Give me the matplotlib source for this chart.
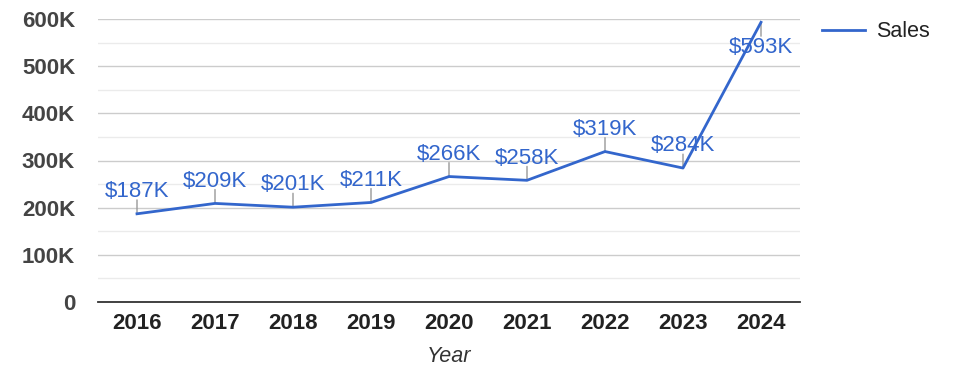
import matplotlib
matplotlib.use("Agg")
import matplotlib.pyplot as plt
from matplotlib.ticker import MultipleLocator, FuncFormatter

plt.rcParams['font.family'] = ['Liberation Sans', 'DejaVu Sans']

years = ["2016", "2017", "2018", "2019", "2020", "2021", "2022", "2023", "2024"]
sales = [187000, 209000, 201000, 211000, 266000, 258000, 319000, 284000, 593000]
labels = ["$187K", "$209K", "$201K", "$211K", "$266K", "$258K", "$319K", "$284K", "$593K"]
label_below = [False, False, False, False, False, False, False, False, True]

W, H = 975, 378
fig = plt.figure(figsize=(W / 100, H / 100), dpi=100)
ax = fig.add_axes([98 / W, 1 - 302 / H, (800 - 98) / W, (302 - 19) / H])

blue = "#3366cc"
x = list(range(len(years)))
ax.plot(x, sales, color=blue, lw=2, label="Sales", zorder=3, solid_joinstyle='round')

for xi, yi, lab, below in zip(x, sales, labels, label_below):
    sign = -1 if below else 1
    ax.annotate("", xy=(xi, yi), xytext=(0, sign * 10), textcoords="offset points",
                arrowprops=dict(arrowstyle="-", color="#999999", lw=1, shrinkA=0, shrinkB=0),
                zorder=2)
    ax.annotate(lab, xy=(xi, yi), xytext=(0, sign * (18 if below else 16)), textcoords="offset points",
                ha="center", va="center", color=blue, fontsize=16, zorder=4)

ax.set_xlim(-0.5, len(years) - 0.5)
ax.set_ylim(0, 600000)
ax.set_xticks(x)
ax.set_xticklabels(years)
ax.yaxis.set_major_locator(MultipleLocator(100000))
ax.yaxis.set_minor_locator(MultipleLocator(50000))
ax.yaxis.set_major_formatter(FuncFormatter(lambda v, p: "0" if v == 0 else f"{int(v/1000)}K"))
ax.grid(axis='y', which='major', color="#cccccc", lw=1)
ax.grid(axis='y', which='minor', color="#ebebeb", lw=1)
ax.set_axisbelow(True)
for s in ["top", "right", "left"]:
    ax.spines[s].set_visible(False)
ax.spines["bottom"].set_color("#333333")
ax.spines["bottom"].set_linewidth(1.3)
ax.tick_params(axis='both', which='both', length=0)
ax.tick_params(axis='y', pad=16.5, labelsize=16, labelcolor="#444444")
ax.tick_params(axis='x', pad=8, labelsize=16, labelcolor="#222222")
for t in ax.get_yticklabels() + ax.get_xticklabels():
    t.set_fontweight("bold")
ax.set_xlabel("Year", fontsize=15.5, style="italic", color="#333333", labelpad=8.5)

leg = fig.legend(loc="upper left", bbox_to_anchor=(803 / W, 1 - 2 / H), frameon=False,
                 fontsize=15.5, handlelength=2.0, handletextpad=0.5)
for t in leg.get_texts():
    t.set_color("#222222")

fig.savefig("out.png", dpi=100)
